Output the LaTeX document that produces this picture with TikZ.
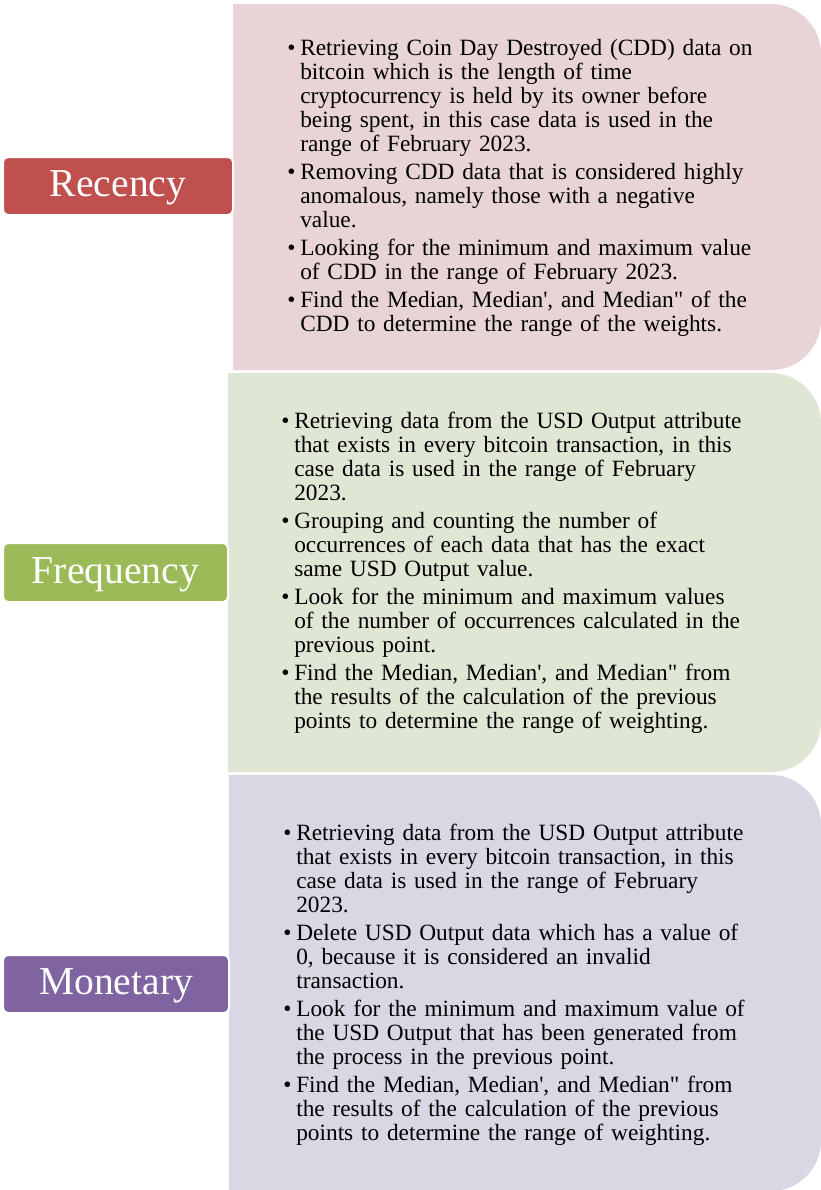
\documentclass[tikz,border=0pt]{standalone}
\usepackage{fontspec}
\setmainfont{Liberation Serif}
\definecolor{recred}{HTML}{C0504D}
\definecolor{frqgreen}{HTML}{9BBB59}
\definecolor{monpurple}{HTML}{8064A2}
\definecolor{recpanel}{HTML}{E8D4D5}
\definecolor{frqpanel}{HTML}{DFE7D4}
\definecolor{monpanel}{HTML}{DAD7E5}
\newcommand{\bi}{\makebox[9.75pt][l]{•}}
\newcommand{\ci}{\hspace*{9.75pt}}
\newcommand{\sq}{\textquotesingle}
\newcommand{\dq}{\textquotedbl}
\newcommand{\rpanel}[4]{%
  \path[panelshape, fill=#4] (#1,#2) -- (771,#2)
    .. controls (798.6,#2) and (821,#2+22.4) .. (821,#2+50)
    -- (821,#3-50)
    .. controls (821,#3-22.4) and (798.6,#3) .. (771,#3)
    -- (#1,#3) -- cycle;}
\tikzset{
  panelshape/.style={draw=none},
  lab/.style={draw=white, line width=1.5pt, rounded corners=3.75pt, text=white,
    font=\fontsize{29.7}{30}\selectfont, text height=22pt, text depth=6.25pt,
    inner sep=0pt, align=center},
  bullets/.style={anchor=north west, inner sep=0pt, text width=375pt, align=left,
    font=\fontsize{17.5}{18}\selectfont, text=black}
}
\begin{document}
\begin{tikzpicture}[x=0.75pt,y=-0.75pt]
\clip (0,0) rectangle (821,1190);
% panels
\rpanel{233}{4}{370}{recpanel}
\rpanel{228}{373}{772}{frqpanel}
\rpanel{229}{775}{1191}{monpanel}
% labels
\node[lab, fill=recred, minimum width=172.5pt, minimum height=43.5pt] (recency) at (118,186) {Recency};
\node[lab, fill=frqgreen, minimum width=168.75pt, minimum height=44.25pt] (frequency) at (115.5,572.5) {Frequency};
\node[lab, fill=monpurple, minimum width=169.5pt, minimum height=43.5pt] (monetary) at (116,984) {Monetary};
% texts
\node[bullets] (rectext) at (287,38.2) {\strut\bi Retrieving Coin Day Destroyed (CDD) data on\\
\ci bitcoin which is the length of time\\
\ci cryptocurrency is held by its owner before\\
\ci being spent, in this case data is used in the\\
\ci range of February 2023.\\[3pt]
\bi Removing CDD data that is considered highly\\
\ci anomalous, namely those with a negative\\
\ci value.\\[3pt]
\bi Looking for the minimum and maximum value\\
\ci of CDD in the range of February 2023.\\[3pt]
\bi Find the Median, Median\sq, and Median\dq{} of the\\
\ci CDD to determine the range of the weights.};
\node[bullets] (frqtext) at (281,411.2) {\strut\bi Retrieving data from the USD Output attribute\\
\ci that exists in every bitcoin transaction, in this\\
\ci case data is used in the range of February\\
\ci 2023.\\[3pt]
\bi Grouping and counting the number of\\
\ci occurrences of each data that has the exact\\
\ci same USD Output value.\\[3pt]
\bi Look for the minimum and maximum values\\
\ci of the number of occurrences calculated in the\\
\ci previous point.\\[3pt]
\bi Find the Median, Median\sq, and Median\dq{} from\\
\ci the results of the calculation of the previous\\
\ci points to determine the range of weighting.};
\node[bullets] (montext) at (283,823.2) {\strut\bi Retrieving data from the USD Output attribute\\
\ci that exists in every bitcoin transaction, in this\\
\ci case data is used in the range of February\\
\ci 2023.\\[3pt]
\bi Delete USD Output data which has a value of\\
\ci 0, because it is considered an invalid\\
\ci transaction.\\[3pt]
\bi Look for the minimum and maximum value of\\
\ci the USD Output that has been generated from\\
\ci the process in the previous point.\\[3pt]
\bi Find the Median, Median\sq, and Median\dq{} from\\
\ci the results of the calculation of the previous\\
\ci points to determine the range of weighting.};
\end{tikzpicture}
\end{document}
